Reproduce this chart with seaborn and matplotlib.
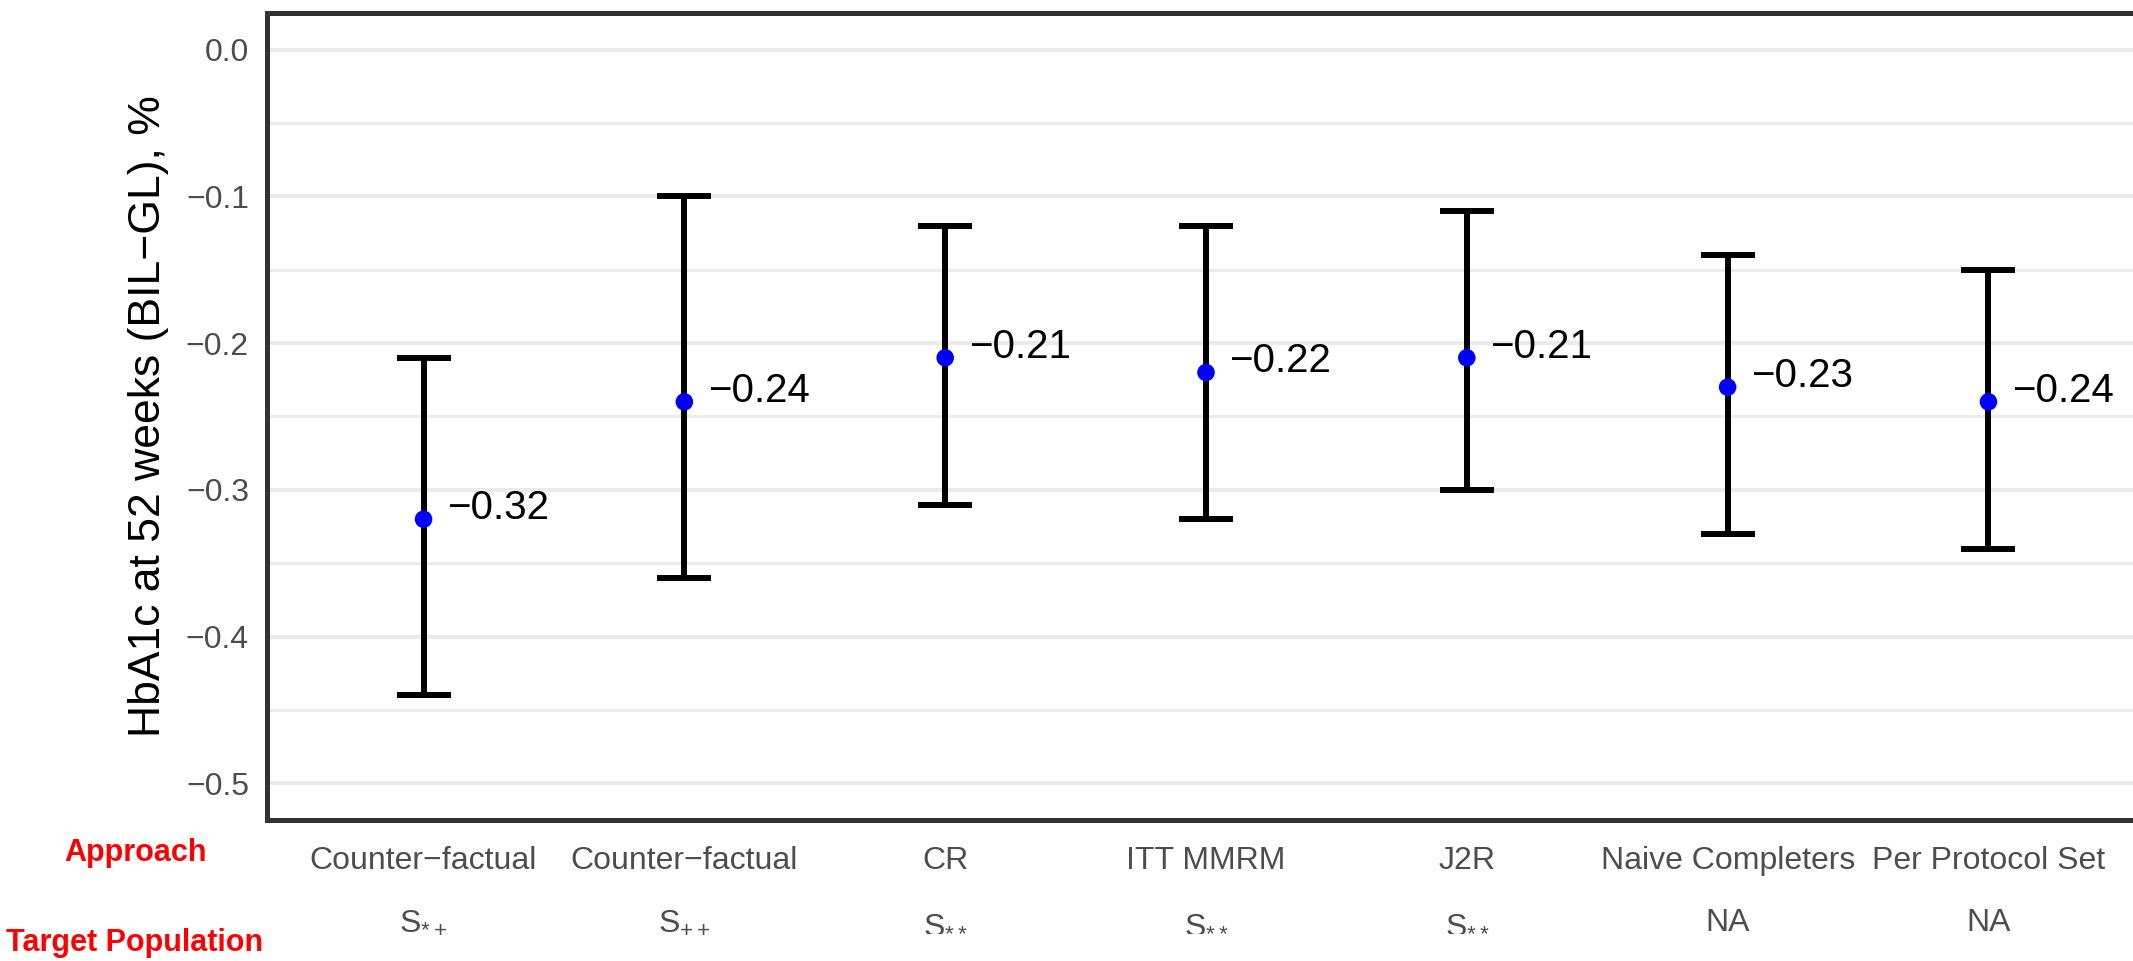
import numpy as np
import pandas as pd
import matplotlib
matplotlib.use("Agg")
import matplotlib.pyplot as plt
import matplotlib.transforms as mtransforms
from matplotlib.ticker import FuncFormatter, MultipleLocator
import seaborn as sns

# Data
approach = ["Counter\u2212factual", "Counter\u2212factual", "CR", "ITT MMRM",
            "J2R", "Naive Completers", "Per Protocol Set"]
target_pop = [r"S$_{\mathregular{*+}}$", r"S$_{\mathregular{++}}$", r"S$_{\mathregular{**}}$",
              r"S$_{\mathregular{**}}$", r"S$_{\mathregular{**}}$", "NA", "NA"]
estimate = [-0.32, -0.24, -0.21, -0.22, -0.21, -0.23, -0.24]
ci_lower = [-0.44, -0.36, -0.31, -0.32, -0.30, -0.33, -0.34]
ci_upper = [-0.21, -0.10, -0.12, -0.12, -0.11, -0.14, -0.15]

df = pd.DataFrame({
    "pos": np.arange(len(approach)),
    "estimate": estimate,
    "lower": ci_lower,
    "upper": ci_upper,
})

sns.set_theme(style="white")
plt.rcParams["font.family"] = ["Liberation Sans", "DejaVu Sans"]
plt.rcParams["mathtext.fontset"] = "custom"
plt.rcParams["mathtext.rm"] = "Liberation Sans"
plt.rcParams["mathtext.it"] = "Liberation Sans"
plt.rcParams["mathtext.default"] = "regular"

fig = plt.figure(figsize=(21.33, 9.61), dpi=100)
ax = fig.add_axes([0.1252, 0.1467, 0.8804, 0.8398])

# error bars (CI)
ax.errorbar(df["pos"], df["estimate"],
            yerr=[df["estimate"] - df["lower"], df["upper"] - df["estimate"]],
            fmt="none", ecolor="black", elinewidth=4.3, capsize=19.5, capthick=4.3,
            zorder=3)

# point estimates
sns.scatterplot(data=df, x="pos", y="estimate", color="#0000FF", s=160,
                edgecolor="none", ax=ax, zorder=4)

# value labels
for x, y in zip(df["pos"], df["estimate"]):
    ax.text(x + 0.09, y, f"{y:.2f}".replace("-", "\u2212"), fontsize=29,
            color="black", ha="left", va="baseline", zorder=5)

ax.set_xlim(-0.6, len(approach) - 1 + 0.6)
ax.set_ylim(-0.525, 0.025)

ax.yaxis.set_major_locator(MultipleLocator(0.1))
ax.yaxis.set_minor_locator(MultipleLocator(0.05))
ax.yaxis.set_major_formatter(FuncFormatter(
    lambda v, p: f"{np.round(v, 2) + 0.0:.1f}".replace("-", "\u2212")))
ax.grid(which="major", axis="y", color="#EBEBEB", linewidth=3.0)
ax.grid(which="minor", axis="y", color="#EBEBEB", linewidth=2.2)
ax.grid(which="major", axis="x", visible=False)
ax.set_axisbelow(True)

ax.set_xticks(df["pos"])
ax.set_xticklabels(approach)
ax.tick_params(axis="both", which="major", direction="out", length=7, width=3.5,
               color="#333333", labelsize=23, labelcolor="#4D4D4D", pad=6)
ax.tick_params(axis="y", which="minor", length=0)
ax.tick_params(axis="x", pad=12)

for sp in ax.spines.values():
    sp.set_color("#333333")
    sp.set_linewidth(3.6)

ax.set_xlabel("")
ax.set_ylabel("HbA1c at 52 weeks (BIL\u2212GL), %", fontsize=32, color="black",
              labelpad=12)

# second row of x labels: target population
trans = mtransforms.blended_transform_factory(ax.transData, fig.transFigure)
for x, lab in zip(df["pos"], target_pop):
    ax.text(x, 1 - 931 / 961, lab, transform=trans, fontsize=23, color="#4D4D4D",
            ha="center", va="baseline", clip_on=False)

# row headers
fig.text(135 / 2133, 1 - 853 / 961, "Approach", fontsize=22, fontweight="bold",
         color="red", ha="center", va="center")
fig.text(135 / 2133, 1 - 943 / 961, "Target Population", fontsize=22,
         fontweight="bold", color="red", ha="center", va="center")

fig.savefig("out.png", dpi=100)
